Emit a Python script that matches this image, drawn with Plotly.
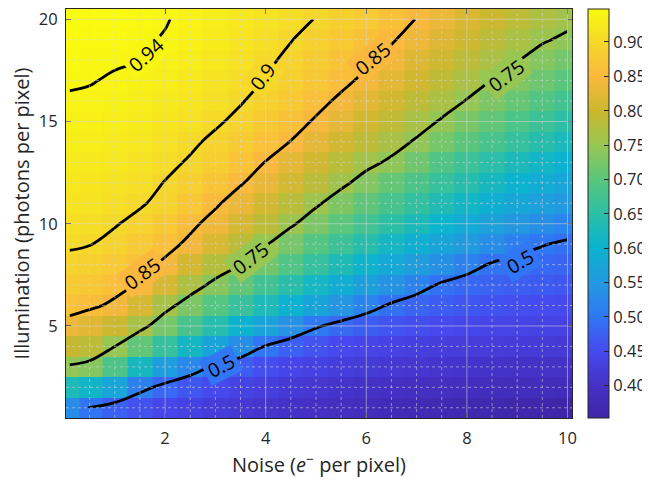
import plotly.graph_objects as go

# Noise axis (e- per pixel) – column centres
noise = [0.1, 0.5, 1.0, 1.5, 2.0, 2.5, 3.0, 3.5, 4.0, 4.5, 5.0,
         5.5, 6.0, 6.5, 7.0, 7.5, 8.0, 8.5, 9.0, 9.5, 10.0]
# Illumination axis (photons per pixel) – row centres
illum = list(range(1, 21))

# Values (rows = illumination 1..20)
r01 = [0.530, 0.497, 0.475, 0.458, 0.445, 0.434, 0.424, 0.416, 0.409, 0.403, 0.397, 0.391, 0.385, 0.380, 0.376, 0.372, 0.368, 0.364, 0.360, 0.356, 0.353]
r02 = [0.630, 0.612, 0.575, 0.515, 0.485, 0.465, 0.450, 0.438, 0.428, 0.420, 0.413, 0.407, 0.402, 0.398, 0.394, 0.391, 0.389, 0.387, 0.385, 0.384, 0.383]
r03 = [0.745, 0.735, 0.685, 0.620, 0.560, 0.525, 0.492, 0.470, 0.455, 0.443, 0.434, 0.427, 0.421, 0.416, 0.412, 0.409, 0.406, 0.404, 0.402, 0.401, 0.400]
r04 = [0.795, 0.785, 0.750, 0.705, 0.660, 0.615, 0.572, 0.535, 0.497, 0.475, 0.460, 0.449, 0.441, 0.435, 0.430, 0.427, 0.425, 0.423, 0.422, 0.421, 0.420]
r05 = [0.835, 0.822, 0.800, 0.765, 0.722, 0.680, 0.640, 0.603, 0.570, 0.538, 0.505, 0.485, 0.472, 0.462, 0.455, 0.449, 0.445, 0.441, 0.439, 0.437, 0.435]
r06 = [0.865, 0.857, 0.843, 0.812, 0.765, 0.728, 0.695, 0.662, 0.630, 0.600, 0.572, 0.545, 0.518, 0.494, 0.480, 0.471, 0.464, 0.459, 0.455, 0.452, 0.450]
r07 = [0.880, 0.874, 0.862, 0.846, 0.812, 0.772, 0.737, 0.705, 0.674, 0.645, 0.617, 0.590, 0.564, 0.540, 0.517, 0.494, 0.484, 0.478, 0.473, 0.469, 0.465]
r08 = [0.893, 0.888, 0.878, 0.863, 0.843, 0.810, 0.778, 0.750, 0.718, 0.688, 0.659, 0.632, 0.606, 0.582, 0.558, 0.537, 0.515, 0.496, 0.489, 0.484, 0.480]
r09 = [0.903, 0.901, 0.892, 0.878, 0.862, 0.842, 0.815, 0.785, 0.753, 0.723, 0.695, 0.668, 0.642, 0.618, 0.595, 0.573, 0.553, 0.533, 0.513, 0.502, 0.494]
r10 = [0.910, 0.907, 0.902, 0.892, 0.877, 0.858, 0.837, 0.812, 0.785, 0.756, 0.728, 0.701, 0.675, 0.650, 0.627, 0.605, 0.584, 0.565, 0.548, 0.533, 0.521]
r11 = [0.917, 0.915, 0.910, 0.903, 0.892, 0.876, 0.855, 0.833, 0.809, 0.783, 0.756, 0.730, 0.704, 0.680, 0.657, 0.635, 0.614, 0.595, 0.578, 0.563, 0.550]
r12 = [0.922, 0.920, 0.916, 0.910, 0.899, 0.887, 0.871, 0.853, 0.832, 0.809, 0.784, 0.759, 0.734, 0.709, 0.685, 0.662, 0.640, 0.620, 0.602, 0.588, 0.575]
r13 = [0.926, 0.925, 0.921, 0.916, 0.907, 0.897, 0.884, 0.869, 0.849, 0.828, 0.806, 0.783, 0.761, 0.743, 0.717, 0.690, 0.668, 0.647, 0.628, 0.613, 0.600]
r14 = [0.930, 0.929, 0.926, 0.921, 0.914, 0.905, 0.894, 0.880, 0.865, 0.849, 0.829, 0.808, 0.787, 0.766, 0.745, 0.722, 0.700, 0.680, 0.660, 0.642, 0.625]
r15 = [0.934, 0.933, 0.930, 0.926, 0.920, 0.913, 0.904, 0.893, 0.879, 0.864, 0.846, 0.827, 0.808, 0.788, 0.767, 0.746, 0.725, 0.705, 0.686, 0.668, 0.650]
r16 = [0.938, 0.937, 0.934, 0.930, 0.925, 0.919, 0.911, 0.902, 0.890, 0.877, 0.861, 0.843, 0.825, 0.806, 0.787, 0.768, 0.748, 0.729, 0.710, 0.692, 0.675]
r17 = [0.942, 0.941, 0.938, 0.934, 0.929, 0.923, 0.916, 0.908, 0.899, 0.888, 0.875, 0.859, 0.842, 0.824, 0.806, 0.787, 0.768, 0.749, 0.731, 0.715, 0.700]
r18 = [0.944, 0.943, 0.942, 0.940, 0.935, 0.929, 0.922, 0.914, 0.905, 0.894, 0.882, 0.868, 0.856, 0.840, 0.820, 0.803, 0.786, 0.768, 0.752, 0.735, 0.720]
r19 = [0.946, 0.945, 0.944, 0.942, 0.939, 0.933, 0.927, 0.919, 0.910, 0.901, 0.890, 0.877, 0.864, 0.853, 0.837, 0.820, 0.803, 0.786, 0.769, 0.754, 0.743]
r20 = [0.948, 0.947, 0.946, 0.944, 0.941, 0.936, 0.929, 0.922, 0.915, 0.908, 0.899, 0.890, 0.878, 0.864, 0.849, 0.833, 0.817, 0.801, 0.786, 0.772, 0.760]
fidelity = [r01, r02, r03, r04, r05, r06, r07, r08, r09, r10,
            r11, r12, r13, r14, r15, r16, r17, r18, r19, r20]

contour_levels = [0.5, 0.75, 0.85, 0.9, 0.94]
# contour label placements (level, noise, illumination, text angle in degrees)
label_levels = [0.94, 0.9, 0.85, 0.85, 0.75, 0.75, 0.5, 0.5]
label_x = [1.62, 3.94, 6.13, 1.55, 8.78, 3.69, 9.05, 3.12]
label_y = [18.29, 17.18, 18.09, 7.55, 17.23, 8.30, 8.17, 3.07]
label_angle = [-42, -53, -39, -36, -37, -37, -30, -27]

cbar_ticks = [0.40, 0.45, 0.50, 0.55, 0.60, 0.65, 0.70, 0.75, 0.80, 0.85, 0.90]
x_major = [2, 4, 6, 8, 10]
x_minor = [0.5 * k for k in range(1, 21) if (0.5 * k) % 2 != 0]
y_major = [5, 10, 15, 20]
y_minor = [k for k in range(1, 21) if k % 5 != 0]

parula = [
    [0.00, "#3e26a8"], [0.08, "#4431c6"], [0.16, "#4748ee"], [0.25, "#2f78f5"],
    [0.33, "#2399e0"], [0.42, "#0bb3cf"], [0.50, "#2dbfa5"], [0.58, "#58c67e"],
    [0.667, "#98c652"], [0.75, "#cab82e"], [0.835, "#fbb83e"], [0.92, "#f5d82a"],
    [1.00, "#f9fb0e"],
]

zall = [v for row in fidelity for v in row]
ZMIN, ZMAX = min(zall), max(zall)


def cmap(v):
    f = (v - ZMIN) / (ZMAX - ZMIN)
    f = max(0.0, min(1.0, f))
    for (f0, c0), (f1, c1) in zip(parula[:-1], parula[1:]):
        if f0 <= f <= f1:
            t = (f - f0) / (f1 - f0)
            a = [int(c0[i:i + 2], 16) for i in (1, 3, 5)]
            b = [int(c1[i:i + 2], 16) for i in (1, 3, 5)]
            return "rgb(%d,%d,%d)" % tuple(round(p + (q - p) * t) for p, q in zip(a, b))
    return parula[-1][1]


TXT = "#262626"
FONT = "Open Sans"

fig = go.Figure()
fig.add_trace(go.Heatmap(
    x=noise, y=illum, z=fidelity, colorscale=parula, zsmooth=False,
    zmin=ZMIN, zmax=ZMAX, hoverinfo="skip",
    colorbar=dict(
        x=1.0316, xanchor="left", xpad=0, y=0.5, yanchor="middle", ypad=0,
        len=1, lenmode="fraction", thickness=21, thicknessmode="pixels",
        outlinewidth=1, outlinecolor=TXT,
        tickvals=cbar_ticks, tickformat=".2f", ticks="inside", ticklen=5,
        tickcolor=TXT, tickfont=dict(family=FONT, size=16.5, color=TXT),
    ),
))

for lv in contour_levels:
    fig.add_trace(go.Contour(
        x=noise, y=illum, z=fidelity, autocontour=False,
        contours=dict(start=lv, end=lv, size=1, coloring="lines", showlabels=False),
        colorscale=[[0, "black"], [1, "black"]], showscale=False,
        line=dict(width=2.8), hoverinfo="skip",
    ))

shapes = []
grid_col = "rgba(215,215,215,0.55)"
for v in x_minor:
    shapes.append(dict(type="line", xref="x", yref="paper", x0=v, x1=v, y0=0, y1=1,
                       line=dict(color=grid_col, width=1, dash="dot"), layer="above"))
for v in x_major:
    shapes.append(dict(type="line", xref="x", yref="paper", x0=v, x1=v, y0=0, y1=1,
                       line=dict(color=grid_col, width=1), layer="above"))
for v in y_minor:
    shapes.append(dict(type="line", xref="paper", yref="y", x0=0, x1=1, y0=v, y1=v,
                       line=dict(color=grid_col, width=1, dash="dot"), layer="above"))
for v in y_major:
    shapes.append(dict(type="line", xref="paper", yref="y", x0=0, x1=1, y0=v, y1=v,
                       line=dict(color=grid_col, width=1), layer="above"))

annotations = []
for lv, lx, ly, la in zip(label_levels, label_x, label_y, label_angle):
    annotations.append(dict(
        x=lx, y=ly, xref="x", yref="y", text=("\u2009%g\u2009" % lv), showarrow=False,
        textangle=la, xanchor="center", yanchor="middle",
        font=dict(family=FONT, size=19.5, color="black"),
        bgcolor=cmap(lv), borderpad=0,
    ))

axis_common = dict(
    showgrid=False, zeroline=False, showline=True, linecolor=TXT, linewidth=1,
    mirror="allticks", ticks="inside", ticklen=5, tickcolor=TXT,
    tickfont=dict(family=FONT, size=16.5, color=TXT), layer="above traces",
    automargin=False, ticklabeloverflow="allow",
)
# the page body adds an 8px offset, so the figure is sized to fit inside the window
fig.update_layout(
    width=642, height=475,
    margin=dict(l=58, r=78, t=1, b=65, autoexpand=False),
    paper_bgcolor="white", plot_bgcolor="white",
    font=dict(family=FONT, color=TXT),
    showlegend=False,
    shapes=shapes,
    annotations=annotations,
    xaxis=dict(range=[0.03, 10.09], tickvals=x_major, ticklabelstandoff=5,
               title=dict(text="Noise (<i>e</i><sup>−</sup> per pixel)", standoff=10,
                          font=dict(family=FONT, size=20, color=TXT)),
               **axis_common),
    yaxis=dict(range=[0.5, 20.5], tickvals=y_major, ticklabelstandoff=4,
               title=dict(text="Illumination (photons per pixel)", standoff=12,
                          font=dict(family=FONT, size=20, color=TXT)),
               **axis_common),
)

fig.write_html("out.html")
